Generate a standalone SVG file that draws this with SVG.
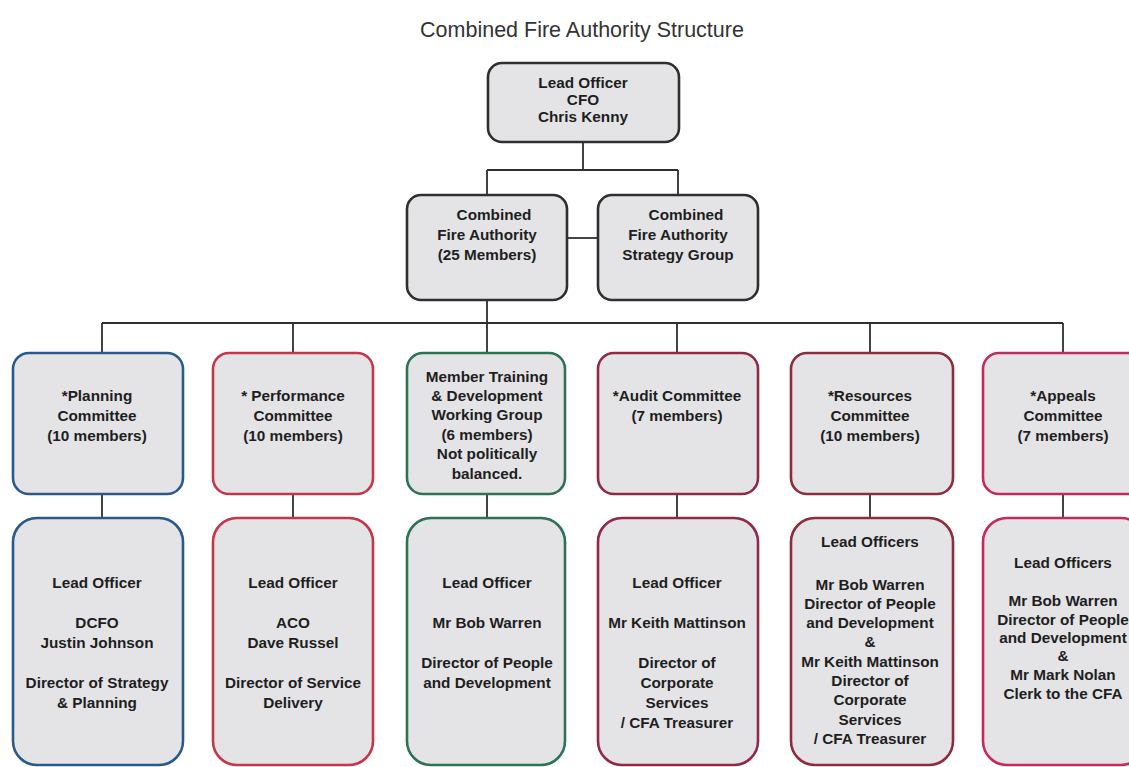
<svg xmlns="http://www.w3.org/2000/svg" width="1129" height="767" viewBox="0 0 1129 767">
<style>
.bg{fill:#ffffff}
.box{fill:#e4e4e6;stroke-width:2.6}
.dark{stroke:#2f2f2f}
.blue{stroke:#2b5a8a}
.red{stroke:#c4364a}
.green{stroke:#2c7255}
.maroon{stroke:#912846}
.wine{stroke:#8c2c3c}
.crim{stroke:#c42a5c}
.t{font-family:"Liberation Sans",Arial,sans-serif;font-size:15.3px;font-weight:bold;fill:#1e1e1e;text-anchor:middle}
.title{font-family:"Liberation Sans",Arial,sans-serif;font-size:21.5px;fill:#333333;text-anchor:middle}
.ln{fill:none;stroke:#2f2f2f;stroke-width:1.8}
</style>
<rect class="bg" x="0" y="0" width="1129" height="767"/>
<text class="title" x="582" y="37">Combined Fire Authority Structure</text>

<g id="connectors">
<path class="ln" d="M583 142 V170 M487 170 H678 M487 170 V195 M678 170 V195"/>
<path class="ln" d="M567 238 H598"/>
<path class="ln" d="M487 300 V323 M102 323 H1063"/>
<path class="ln" d="M102 323 V353 M293 323 V353 M487 323 V353 M677 323 V353 M870 323 V353 M1063 323 V353"/>
<path class="ln" d="M102 494 V518 M293 494 V518 M487 494 V518 M677 494 V518 M870 494 V518 M1063 494 V518"/>
</g>

<g id="cfo">
<rect class="box dark" x="488" y="63" width="191" height="79" rx="14"/>
<text class="t" x="583" y="88">Lead Officer</text>
<text class="t" x="583" y="105">CFO</text>
<text class="t" x="583" y="122">Chris Kenny</text>
</g>

<g id="cfa">
<rect class="box dark" x="407" y="195" width="160" height="105" rx="14"/>
<text class="t" x="494" y="220">Combined</text>
<text class="t" x="487" y="240">Fire Authority</text>
<text class="t" x="487" y="260">(25 Members)</text>
</g>

<g id="strategy">
<rect class="box dark" x="598" y="195" width="160" height="105" rx="14"/>
<text class="t" x="686" y="220">Combined</text>
<text class="t" x="678" y="240">Fire Authority</text>
<text class="t" x="678" y="260">Strategy Group</text>
</g>

<g id="planning">
<rect class="box blue" x="13" y="353" width="170" height="141" rx="16"/>
<text class="t" x="97" y="401">*Planning</text>
<text class="t" x="97" y="421">Committee</text>
<text class="t" x="97" y="441">(10 members)</text>
</g>

<g id="performance">
<rect class="box red" x="213" y="353" width="160" height="141" rx="16"/>
<text class="t" x="293" y="401">* Performance</text>
<text class="t" x="293" y="421">Committee</text>
<text class="t" x="293" y="441">(10 members)</text>
</g>

<g id="training">
<rect class="box green" x="407" y="353" width="158" height="141" rx="16"/>
<text class="t" x="487" y="382">Member Training</text>
<text class="t" x="487" y="401">&amp; Development</text>
<text class="t" x="487" y="420">Working Group</text>
<text class="t" x="487" y="440">(6 members)</text>
<text class="t" x="487" y="459">Not politically</text>
<text class="t" x="487" y="479">balanced.</text>
</g>

<g id="audit">
<rect class="box maroon" x="598" y="353" width="160" height="141" rx="16"/>
<text class="t" x="677" y="401">*Audit Committee</text>
<text class="t" x="677" y="421">(7 members)</text>
</g>

<g id="resources">
<rect class="box wine" x="791" y="353" width="162" height="141" rx="16"/>
<text class="t" x="870" y="401">*Resources</text>
<text class="t" x="870" y="421">Committee</text>
<text class="t" x="870" y="441">(10 members)</text>
</g>

<g id="appeals">
<rect class="box crim" x="983" y="353" width="162" height="141" rx="16"/>
<text class="t" x="1063" y="401">*Appeals</text>
<text class="t" x="1063" y="421">Committee</text>
<text class="t" x="1063" y="441">(7 members)</text>
</g>

<g id="lead-planning">
<rect class="box blue" x="13" y="518" width="170" height="247" rx="24"/>
<text class="t" x="97" y="588">Lead Officer</text>
<text class="t" x="97" y="628">DCFO</text>
<text class="t" x="97" y="648">Justin Johnson</text>
<text class="t" x="97" y="688">Director of Strategy</text>
<text class="t" x="97" y="708">&amp; Planning</text>
</g>

<g id="lead-performance">
<rect class="box red" x="213" y="518" width="160" height="247" rx="24"/>
<text class="t" x="293" y="588">Lead Officer</text>
<text class="t" x="293" y="628">ACO</text>
<text class="t" x="293" y="648">Dave Russel</text>
<text class="t" x="293" y="688">Director of Service</text>
<text class="t" x="293" y="708">Delivery</text>
</g>

<g id="lead-training">
<rect class="box green" x="407" y="518" width="158" height="247" rx="24"/>
<text class="t" x="487" y="588">Lead Officer</text>
<text class="t" x="487" y="628">Mr Bob Warren</text>
<text class="t" x="487" y="668">Director of People</text>
<text class="t" x="487" y="688">and Development</text>
</g>

<g id="lead-audit">
<rect class="box maroon" x="598" y="518" width="160" height="247" rx="24"/>
<text class="t" x="677" y="588">Lead Officer</text>
<text class="t" x="677" y="628">Mr Keith Mattinson</text>
<text class="t" x="677" y="668">Director of</text>
<text class="t" x="677" y="688">Corporate</text>
<text class="t" x="677" y="708">Services</text>
<text class="t" x="677" y="728">/ CFA Treasurer</text>
</g>

<g id="lead-resources">
<rect class="box wine" x="791" y="518" width="162" height="247" rx="24"/>
<text class="t" x="870" y="547">Lead Officers</text>
<text class="t" x="870" y="590">Mr Bob Warren</text>
<text class="t" x="870" y="609">Director of People</text>
<text class="t" x="870" y="628">and Development</text>
<text class="t" x="870" y="647">&amp;</text>
<text class="t" x="870" y="667">Mr Keith Mattinson</text>
<text class="t" x="870" y="686">Director of</text>
<text class="t" x="870" y="705">Corporate</text>
<text class="t" x="870" y="725">Services</text>
<text class="t" x="870" y="744">/ CFA Treasurer</text>
</g>

<g id="lead-appeals">
<rect class="box crim" x="983" y="518" width="162" height="247" rx="24"/>
<text class="t" x="1063" y="568">Lead Officers</text>
<text class="t" x="1063" y="606">Mr Bob Warren</text>
<text class="t" x="1063" y="625">Director of People</text>
<text class="t" x="1063" y="643">and Development</text>
<text class="t" x="1063" y="661">&amp;</text>
<text class="t" x="1063" y="680">Mr Mark Nolan</text>
<text class="t" x="1063" y="699">Clerk to the CFA</text>
</g>
</svg>
